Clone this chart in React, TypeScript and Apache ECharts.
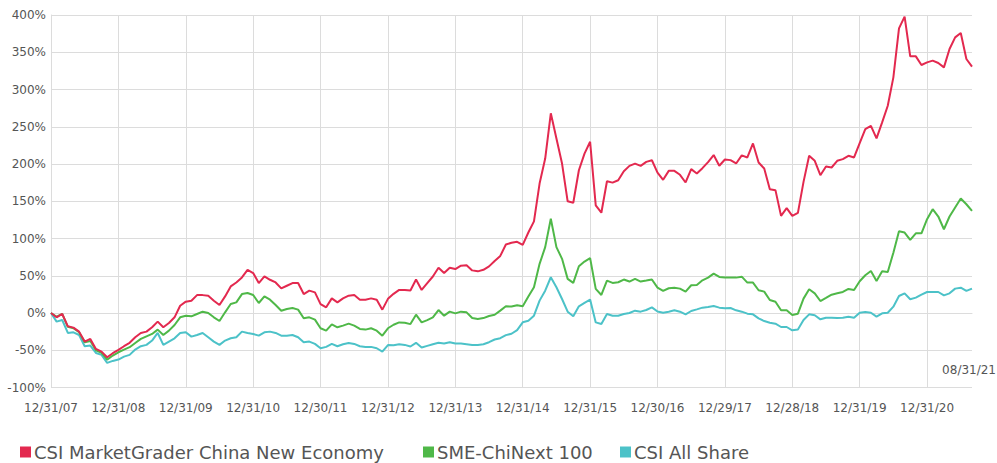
import React, { useEffect, useRef } from "react";
import * as echarts from "echarts";

const seriesNames = ["CSI MarketGrader China New Economy", "SME-ChiNext 100", "CSI All Share"];
const seriesColors = ["#e3294f", "#4fb848", "#4cc2c8"];

const yearEndLabels = [
  "12/31/07", "12/31/08", "12/31/09", "12/31/10", "12/30/11", "12/31/12", "12/31/13",
  "12/31/14", "12/31/15", "12/30/16", "12/29/17", "12/28/18", "12/31/19", "12/31/20",
];
const lastDateLabel = "08/31/21";

const chinaNewEconomy = [
  0, -5.8, -1.3, -17.9, -19.6, -25, -38.4, -34.8, -48.2, -51.8, -59.4, -54,
  -49.5, -44.6, -40, -32.6, -26.8, -25, -19.2, -11.6, -19.2, -13.4, -5.8, 9.8,
  15.2, 16.5, 24, 24, 23, 16.5, 10.7, 22.3, 35.7, 41, 47.8, 58,
  53.6, 40.2, 49.1, 44.6, 41, 33, 36.6, 40.2, 40.2, 25.4, 30, 27.7,
  12, 7.6, 19.6, 14.3, 19.6, 23.2, 24.1, 17.9, 17.9, 19.6, 17.9, 4.5,
  19, 25.7, 31, 31, 30.2, 45, 31, 40, 49, 60.8, 53.6, 60.8,
  59, 63.5, 64, 57.2, 55.9, 58, 62.6, 69.8, 76.6, 91.9, 94.2, 95.5,
  91.5, 108, 123, 173.7, 207.3, 268, 234.3, 200.6, 149.9, 148, 191.6, 214,
  229.8, 144.5, 134.6, 176.8, 175, 178.2, 190.3, 197.5, 200.6, 197.5, 202.8, 205,
  188.5, 178.8, 190.8, 190.8, 185.5, 175.2, 193.1, 187.3, 194.4, 202.5, 212, 197.6,
  206, 205.2, 200.7, 211.5, 208.8, 227.6, 202, 194, 166.2, 164.9, 130.4, 140.7,
  130.4, 134.4, 176, 211, 204.3, 185, 196.7, 195.3, 204.3, 206.5, 211, 208.8,
  228, 246.8, 251.3, 234.3, 255.8, 278.2, 316.3, 382.1, 397.8, 344.5, 344.5, 332.9,
  336.4, 338.7, 335.6, 329.7, 354.4, 370, 375.9, 340.9, 330.6,
];

const smeChiNext100 = [
  0, -5, -1.3, -18.5, -20.5, -25.9, -39.3, -37.5, -50, -53.6, -62.5, -57.1,
  -52.7, -49.1, -45.9, -40.2, -34.8, -31.3, -28.1, -22.3, -29.5, -23.7, -16.1, -5.8,
  -3.6, -4.5, -1.3, 1.8, 0, -5.8, -10.7, 0.9, 12, 14.3, 25.4, 26.8,
  24.1, 13.4, 22.3, 17.9, 10.7, 3.1, 5.4, 6.7, 4.5, -7.1, -5.8, -8.9,
  -20.5, -23.7, -15.2, -19.2, -17, -14.3, -17, -21.4, -22.3, -20.5, -23.7, -30.4,
  -20.5, -15.8, -12.6, -13, -14.9, -2.3, -12.6, -9.5, -5.9, 4, -3.6, 1.8,
  -0.5, 1.8, 0.9, -6.8, -8.1, -6.8, -4, -2.3, 3.2, 9, 8.6, 10.4,
  9, 22, 34.6, 66, 88.4, 126.6, 88.4, 72.7, 45.8, 40.4, 62.8, 69.1,
  73.6, 32.3, 24.2, 43.5, 40.4, 41.3, 44.9, 42.2, 45.8, 42.2, 43.5, 44.9,
  34, 29.6, 33.2, 34, 32.7, 28.7, 37.2, 37.6, 43.9, 47.5, 52.9, 48.4,
  47.5, 47.5, 47.5, 48.8, 40.8, 40.8, 30.5, 28.7, 17.5, 15.2, 3.6, 3.6,
  -2.7, -0.9, 19.3, 31.8, 26.4, 16.1, 20.2, 24.6, 26.4, 28.2, 32.3, 30.9,
  42.6, 50.6, 56.4, 43, 56, 55.1, 81, 109.8, 108, 98.1, 107, 107,
  125.9, 139.3, 129.5, 112.4, 129.5, 141.6, 153.7, 146, 137.1,
];

const csiAllShare = [
  0, -11.6, -9.4, -26.8, -25.9, -29.5, -44.6, -43.7, -53.6, -56.2, -67, -64.3,
  -62.5, -58.5, -56.2, -49.1, -44.6, -42.8, -37, -26.8, -42.8, -38.4, -34, -26.8,
  -25.9, -31.7, -29.5, -26.8, -32.6, -38.4, -42.8, -37, -33.9, -32.6, -25, -26.8,
  -28.1, -30.4, -25.9, -25, -26.8, -30.4, -30.4, -29.5, -32.6, -39.3, -38.4, -41.5,
  -47.3, -45.5, -41.5, -44.6, -42, -40.2, -41.5, -44.6, -45.5, -45.5, -47.3, -51.8,
  -43, -43.2, -41.9, -42.8, -45, -40, -46.4, -44.1, -41.9, -40, -41, -39.2,
  -41, -41, -41.9, -42.8, -42.8, -41.9, -39.2, -35.6, -33.8, -29.7, -27.9, -23,
  -12.5, -10.3, -3.6, 16.6, 30, 48, 34.6, 18.8, 1.8, -4.5, 9, 13.5,
  18, -12.6, -14.8, -1.3, -3.6, -3.6, -1.3, 0, 3.1, 1.8, 4, 7.6,
  2, 0.4, 1.8, 3.6, 1.8, -1.8, 2.7, 4.9, 7.2, 8.1, 9.4, 7.2,
  6.3, 6.7, 3.6, 1.8, -0.9, -1.8, -7.2, -10.8, -13, -14.3, -18.8, -18.8,
  -23.3, -22.2, -9.4, -1.8, -3.1, -8.5, -6.3, -6.3, -6.7, -6.3, -4.9, -6.3,
  0.4, 1.3, 0.4, -4.9, -0.4, 0.4, 8.5, 22.8, 26.4, 18.4, 20.6, 24.6,
  28.2, 28.2, 28.2, 23.7, 26.4, 32.7, 34, 29.6, 32.7,
];

const yMin = -100;
const yMax = 400;
const yInterval = 50;

const FONT = "'DejaVu Sans', sans-serif";
const legendLefts = [20, 423, 620];

export default function App() {
  const ref = useRef<HTMLDivElement>(null);

  useEffect(() => {
    if (!ref.current) return;
    const chart = echarts.init(ref.current, undefined, { renderer: "svg" });
    const n = chinaNewEconomy.length;
    const categories = Array.from({ length: n }, (_, i) =>
      i % 12 === 0 && yearEndLabels[i / 12] ? yearEndLabels[i / 12] : i === n - 1 ? lastDateLabel : "m" + i
    );
    const isYearTick = (idx: number) => idx % 12 === 0 && idx / 12 < yearEndLabels.length;
    const allData = [chinaNewEconomy, smeChiNext100, csiAllShare];

    chart.setOption({
      animation: false,
      textStyle: { fontFamily: FONT },
      grid: { left: 51, right: 25, top: 15, bottom: 75.5, containLabel: false },
      legend: seriesNames.map((name, k) => ({
        data: [name],
        left: legendLefts[k],
        top: 443,
        padding: 0,
        icon: "rect",
        itemWidth: 11,
        itemHeight: 11,
        textStyle: { fontSize: 18, color: "#555", fontFamily: FONT, padding: [0, 0, 0, -2] },
      })),
      xAxis: {
        type: "category",
        boundaryGap: false,
        data: categories,
        axisLine: { show: true, lineStyle: { color: "#dcdcdc", width: 1 } },
        axisTick: { show: false },
        axisLabel: {
          interval: (idx: number) => isYearTick(idx),
          color: "#555",
          fontSize: 12,
          fontFamily: FONT,
          margin: 14,
        },
        splitLine: {
          show: true,
          interval: (idx: number) => isYearTick(idx),
          lineStyle: { color: "#dcdcdc", width: 1 },
        },
      },
      yAxis: {
        type: "value",
        min: yMin,
        max: yMax,
        interval: yInterval,
        axisLine: { show: true, lineStyle: { color: "#dcdcdc", width: 1 } },
        axisTick: { show: false },
        axisLabel: {
          formatter: "{value}%",
          color: "#555",
          fontSize: 12,
          fontFamily: FONT,
          margin: 5,
        },
        splitLine: { show: true, lineStyle: { color: "#dcdcdc", width: 1 } },
      },
      graphic: [
        {
          type: "text",
          right: 1,
          top: 364,
          style: { text: lastDateLabel, fill: "#555", fontSize: 12, fontFamily: FONT },
        },
      ],
      series: allData.map((d, k) => ({
        name: seriesNames[k],
        type: "line",
        data: d,
        showSymbol: false,
        symbol: "none",
        z: 4 - k,
        color: seriesColors[k],
        lineStyle: { color: seriesColors[k], width: 2 },
      })),
    });
    return () => chart.dispose();
  }, []);

  return <div ref={ref} style={{ width: 997, height: 463, position: "absolute", left: 0, top: 0 }} />;
}
